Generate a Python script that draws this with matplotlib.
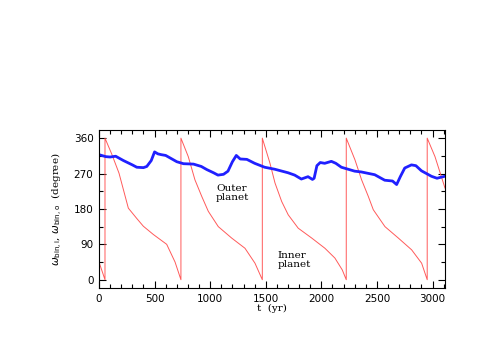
import matplotlib
matplotlib.use("Agg")
import matplotlib.pyplot as plt
from matplotlib.ticker import MultipleLocator

# Inner planet (red sawtooth), explicit readings (jumps repeat the same t)
t_inner = [0, 54,
           54, 114, 180, 264, 339, 399, 489, 609, 684, 737,
           737, 803, 863, 924, 983, 1073, 1193, 1313, 1403, 1469,
           1469, 1538, 1583, 1643, 1702, 1792, 1913, 2032, 2122, 2188, 2224,
           2224, 2302, 2362, 2422, 2467, 2572, 2692, 2812, 2902, 2952,
           2952, 3022, 3112]
w_inner = [45, 0,
           360, 320, 271, 182, 156, 136, 115, 90, 45, 0,
           360, 313, 254, 212, 174, 135, 106, 80, 42, 0,
           360, 296, 246, 199, 165, 131, 106, 80, 55, 25, 0,
           360, 305, 254, 212, 178, 135, 106, 76, 42, 0,
           360, 313, 233]

# Outer planet (blue)
t_outer = [0, 60, 100, 150, 220, 300, 340, 400, 430, 470, 500, 530, 560, 600,
           650, 700, 760, 850, 920, 970, 1030, 1070, 1120, 1160, 1200, 1235,
           1270, 1330, 1400, 1490, 1580, 1700, 1760, 1820, 1880, 1920, 1935,
           1960, 1990, 2030, 2090, 2130, 2180, 2240, 2300, 2360, 2480, 2570,
           2640, 2677, 2710, 2750, 2810, 2850, 2900, 2990, 3040, 3110]
w_outer = [318, 313, 312, 314, 303, 292, 286, 285, 288, 303, 325, 320, 318, 316,
           308, 300, 295, 294, 288, 280, 272, 266, 268, 276, 300, 316,
           307, 306, 296, 286, 281, 272, 266, 256, 262, 255, 258,
           290, 298, 296, 301, 296, 286, 281, 276, 274, 267, 253,
           251, 242, 262, 284, 292, 290, 277, 263, 258, 263]

x_ticks = [0, 500, 1000, 1500, 2000, 2500, 3000]
y_ticks = [0, 90, 180, 270, 360]

fig = plt.figure(figsize=(4.91, 3.40), dpi=100)
ax = fig.add_axes([0.2016, 0.153, 0.7047, 0.465])

ax.plot(t_inner, w_inner, color="#ff5a5a", lw=0.7)
ax.plot(t_outer, w_outer, color="#2020ff", lw=2.0, solid_joinstyle="round")

ax.set_xlim(0, 3112)
ax.set_ylim(-21, 381)
ax.set_xticks(x_ticks)
ax.set_yticks(y_ticks)
ax.xaxis.set_minor_locator(MultipleLocator(100))
ax.yaxis.set_minor_locator(MultipleLocator(45))
ax.tick_params(which="both", direction="in", top=True, right=True,
               labelsize=7.5, width=0.8)
ax.tick_params(which="major", length=5, pad=4)
ax.tick_params(which="minor", length=3)
for lab in ax.get_xticklabels() + ax.get_yticklabels():
    lab.set_fontfamily("DejaVu Sans")
for s in ax.spines.values():
    s.set_linewidth(0.8)

ax.set_xlabel("t  (yr)", family="DejaVu Serif", fontsize=7.5, labelpad=0)
ax.set_ylabel(r"$\omega_{\rm bin,i}$, $\omega_{\rm bin,o}$  (degree)",
              family="DejaVu Serif", fontsize=7.5, labelpad=6)

ax.text(1052, 221, "Outer\nplanet", family="DejaVu Serif", fontsize=7.5,
        ha="left", va="center", linespacing=1.0)
ax.text(1607, 51, "Inner\nplanet", family="DejaVu Serif", fontsize=7.5,
        ha="left", va="center", linespacing=1.0)

fig.savefig("out.png", dpi=100)
